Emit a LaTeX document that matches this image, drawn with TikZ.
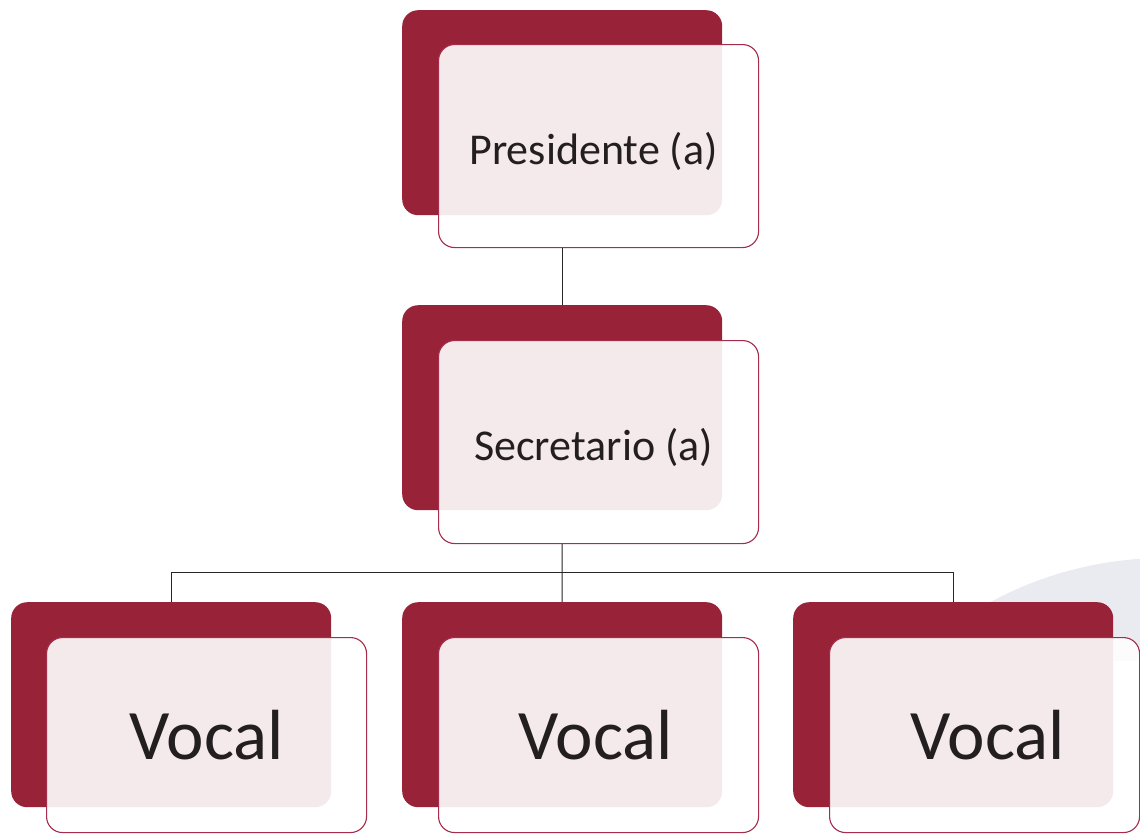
\documentclass[tikz,border=0pt]{standalone}
\usepackage{fontspec}
\setmainfont{Carlito}
\definecolor{darkred}{RGB}{152,34,56}
\definecolor{edgered}{RGB}{165,45,75}
\definecolor{textc}{RGB}{35,31,32}
\definecolor{circlec}{RGB}{234,234,241}
\tikzset{
  back/.style={fill=darkred, draw=none, rounded corners=16pt, minimum width=320pt, minimum height=205pt, anchor=north west, inner sep=0pt},
  front/.style={draw=edgered, line width=1.1pt, fill=white, fill opacity=0.9, text opacity=1, rounded corners=16pt, minimum width=320pt, minimum height=203pt, anchor=north west, inner sep=0pt, text=textc},
  small/.style={font=\fontsize{44}{50}\selectfont},
  big/.style={font=\fontsize{71}{80}\selectfont, minimum height=195pt},
  conn/.style={draw=black!85, line width=1pt}
}
\newcommand{\lowered}[1]{\raisebox{-5pt}[\height][\depth]{#1}\hspace*{10pt}}
\begin{document}
\begin{tikzpicture}[x=1pt,y=-1pt]
\useasboundingbox (0,0) rectangle (1140,833);
\clip (0,0) rectangle (1140,833);
\fill[white] (0,0) rectangle (1140,833);
\begin{scope}
\clip (900,500) rectangle (1140,660);
\fill[circlec] (1165,925) circle (367pt);
\end{scope}
% Presidente
\node[back] (pD) at (402,10) {};
\node[front,small] (pF) at (438,44) {\lowered{Presidente (a)}};
% Secretario
\node[back] (sD) at (402,305) {};
\node[front,small] (sF) at (438,340) {\lowered{Secretario (a)}};
% connectors
\coordinate (bus) at (562,572);
\draw[conn] (pD.south |- pF.south) -- (sD.north);
% Vocales
\node[back] (v1D) at (11,602) {};
\node[back] (v2D) at (402,602) {};
\node[back] (v3D) at (793,602) {};
\node[front,big] (v1F) at (46,637) {Vocal};
\node[front,big] (v2F) at (438,637) {\hspace*{-3pt}Vocal\hspace*{3pt}};
\node[front,big,minimum width=310pt] (v3F) at (829,637) {\hspace*{3pt}Vocal\hspace*{-3pt}};
\draw[conn] (sD.south |- sF.south) -- (bus);
\draw[conn] (v1D.north) -- (v1D.north |- bus) -- (v3D.north |- bus) -- (v3D.north);
\draw[conn] (bus) -- (v2D.north);
\end{tikzpicture}
\end{document}
